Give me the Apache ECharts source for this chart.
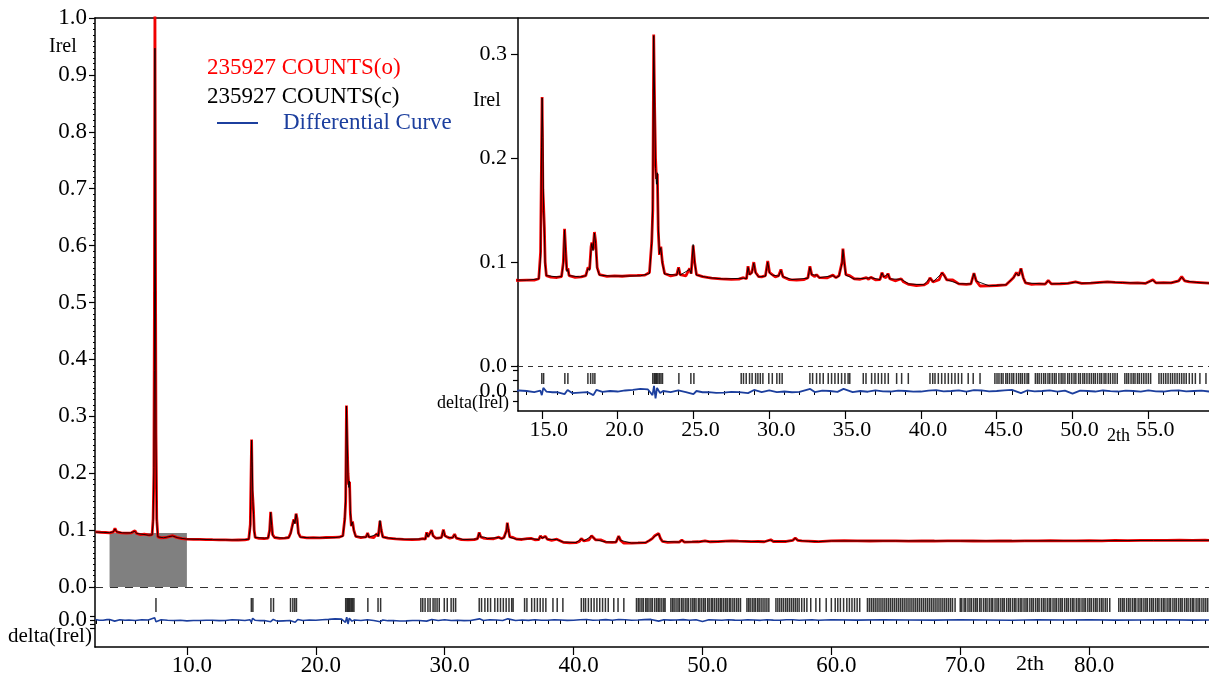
<!DOCTYPE html>
<html><head><meta charset="utf-8">
<script src="https://cdn.jsdelivr.net/npm/echarts@6/dist/echarts.min.js"></script>
<style>html,body{margin:0;padding:0;background:#fff}#c{width:1209px;height:679px}</style>
</head><body><div id="c"></div>
<script>
// ---- data ----
const observed = [[2.9,0.097],[3.3,0.0962],[3.7,0.0958],[4.0,0.095],[4.3,0.097],[4.42,0.103],[4.55,0.097],[4.9,0.0952],[5.3,0.0948],[5.7,0.0953],[5.97,0.099],[6.1,0.094],[6.4,0.0922],[6.7,0.093],[6.8,0.091],[7.1,0.0912],[7.3,0.092],[7.38,0.12],[7.44,0.2],[7.48,0.5],[7.52,1.03],[7.56,0.6],[7.6,0.27],[7.66,0.12],[7.75,0.088],[8.0,0.0862],[8.4,0.087],[8.7,0.089],[8.9,0.0902],[9.2,0.0872],[9.6,0.0852],[10.0,0.0842],[10.5,0.0838],[11,0.0836],[11.5,0.0834],[12,0.0831],[12.5,0.0829],[13,0.0828],[13.5,0.0824],[14,0.0826],[14.5,0.0827],[14.8,0.084],[14.92,0.11],[14.98,0.2],[15.02,0.259],[15.07,0.17],[15.12,0.153],[15.17,0.133],[15.22,0.1],[15.3,0.087],[15.6,0.0855],[16.0,0.0852],[16.3,0.086],[16.42,0.1],[16.5,0.132],[16.58,0.11],[16.65,0.092],[16.72,0.094],[16.8,0.087],[17.2,0.0854],[17.6,0.0858],[17.9,0.087],[18.05,0.095],[18.15,0.093],[18.25,0.115],[18.3,0.119],[18.38,0.112],[18.47,0.129],[18.55,0.12],[18.65,0.095],[18.8,0.088],[19.3,0.0862],[19.8,0.0868],[20.3,0.0864],[20.8,0.087],[21.3,0.0872],[21.8,0.0875],[22.1,0.09],[22.25,0.12],[22.32,0.15],[22.38,0.319],[22.44,0.25],[22.5,0.2],[22.56,0.18],[22.62,0.185],[22.68,0.13],[22.76,0.107],[22.85,0.115],[22.95,0.1],[23.1,0.089],[23.5,0.0868],[23.9,0.088],[24.02,0.095],[24.12,0.088],[24.5,0.0868],[24.75,0.094],[24.85,0.089],[24.98,0.116],[25.08,0.1],[25.2,0.088],[25.6,0.086],[26.2,0.0845],[26.8,0.0838],[27.5,0.0834],[28.0,0.0836],[28.3,0.085],[28.5,0.084],[28.6,0.096],[28.7,0.088],[28.85,0.09],[28.98,0.1],[29.1,0.09],[29.3,0.086],[29.5,0.0858],[29.75,0.087],[29.9,0.101],[30.02,0.09],[30.2,0.088],[30.4,0.0858],[30.62,0.087],[30.77,0.093],[30.9,0.086],[31.3,0.0832],[31.8,0.0828],[32.3,0.0832],[32.55,0.085],[32.68,0.096],[32.8,0.088],[33.0,0.086],[33.12,0.088],[33.3,0.085],[33.8,0.0848],[34.2,0.0875],[34.4,0.085],[34.6,0.087],[34.8,0.1],[34.86,0.113],[34.95,0.1],[35.05,0.088],[35.3,0.087],[35.6,0.084],[36.0,0.0835],[36.4,0.085],[36.55,0.0835],[36.7,0.0855],[37.0,0.083],[37.3,0.0832],[37.43,0.09],[37.55,0.086],[37.7,0.085],[37.83,0.089],[37.95,0.084],[38.3,0.082],[38.7,0.084],[38.85,0.081],[39.2,0.0785],[39.7,0.0775],[40.2,0.078],[40.45,0.08],[40.6,0.085],[40.8,0.081],[41.2,0.083],[41.4,0.09],[41.55,0.087],[41.7,0.083],[42.1,0.0828],[42.5,0.079],[43.0,0.0785],[43.3,0.079],[43.5,0.0893],[43.65,0.082],[43.9,0.077],[44.5,0.0772],[45.0,0.0775],[45.6,0.078],[45.9,0.082],[46.1,0.085],[46.3,0.09],[46.45,0.087],[46.6,0.094],[46.75,0.085],[46.9,0.08],[47.3,0.0785],[47.8,0.079],[48.2,0.0788],[48.4,0.0825],[48.6,0.079],[49.2,0.0792],[49.7,0.0795],[50.2,0.081],[50.6,0.0795],[51.2,0.0797],[51.8,0.0805],[52.3,0.081],[52.8,0.0805],[53.3,0.0803],[53.8,0.0798],[54.3,0.08],[54.8,0.0795],[55.3,0.083],[55.5,0.08],[56.0,0.0802],[56.5,0.08],[57.0,0.082],[57.2,0.086],[57.4,0.082],[57.7,0.081],[58.2,0.0805],[58.7,0.08],[59.0,0.0797],[60,0.081],[61,0.0815],[62,0.081],[63,0.0808],[64,0.081],[65,0.0812],[66,0.0805],[67,0.081],[68,0.0808],[69,0.0812],[70,0.081],[71,0.0808],[72,0.0806],[73,0.081],[74,0.0808],[75,0.0812],[76,0.081],[77,0.0815],[78,0.081],[79,0.0812],[80,0.0815],[81,0.0812],[82,0.0818],[83,0.0815],[84,0.082],[85,0.0818],[86,0.082],[87,0.0822],[88,0.082],[89,0.0822],[89.3,0.082]];

const calculated = [[2.9,0.0965],[3.5,0.096],[4.0,0.0955],[4.3,0.097],[4.42,0.102],[4.55,0.097],[5.0,0.0952],[5.6,0.095],[5.97,0.098],[6.1,0.094],[6.6,0.0925],[7.0,0.091],[7.3,0.0915],[7.38,0.115],[7.44,0.21],[7.48,0.38],[7.52,0.947],[7.56,0.55],[7.6,0.26],[7.66,0.115],[7.75,0.088],[8.2,0.0865],[8.6,0.0885],[8.9,0.0895],[9.3,0.0865],[10,0.0842],[11,0.0838],[12,0.0832],[13,0.0828],[14,0.0826],[14.8,0.0838],[14.92,0.105],[14.98,0.21],[15.02,0.258],[15.07,0.22],[15.12,0.15],[15.17,0.128],[15.22,0.098],[15.3,0.087],[16,0.0858],[16.3,0.0862],[16.42,0.098],[16.5,0.131],[16.58,0.108],[16.65,0.091],[16.72,0.093],[16.8,0.087],[17.5,0.0858],[17.9,0.0868],[18.05,0.094],[18.15,0.092],[18.25,0.113],[18.3,0.118],[18.38,0.111],[18.47,0.128],[18.55,0.118],[18.65,0.094],[18.8,0.0875],[19.5,0.0866],[20.5,0.0866],[21.5,0.0868],[22.1,0.089],[22.25,0.118],[22.32,0.16],[22.38,0.318],[22.44,0.26],[22.5,0.19],[22.56,0.175],[22.62,0.186],[22.68,0.135],[22.76,0.108],[22.85,0.114],[22.95,0.099],[23.1,0.0885],[23.9,0.0875],[24.02,0.094],[24.12,0.0875],[24.75,0.093],[24.85,0.089],[24.98,0.117],[25.08,0.1],[25.2,0.0875],[26,0.085],[27,0.0838],[28.3,0.0845],[28.5,0.0842],[28.6,0.095],[28.7,0.088],[28.85,0.0895],[28.98,0.099],[29.1,0.0895],[29.3,0.0858],[29.75,0.0865],[29.9,0.1],[30.02,0.0895],[30.2,0.0875],[30.62,0.0865],[30.77,0.092],[30.9,0.086],[31.5,0.0832],[32.55,0.0845],[32.68,0.095],[32.8,0.0878],[33.12,0.0875],[33.3,0.085],[34.2,0.087],[34.4,0.085],[34.6,0.0865],[34.8,0.099],[34.86,0.112],[34.95,0.099],[35.05,0.0875],[35.6,0.0838],[36.4,0.0845],[36.7,0.085],[37.3,0.0832],[37.43,0.0895],[37.55,0.0858],[37.83,0.0885],[37.95,0.0838],[38.7,0.0835],[39.2,0.079],[40.2,0.0782],[40.6,0.0845],[40.8,0.081],[41.4,0.0895],[41.55,0.0865],[41.7,0.083],[42.5,0.0792],[43.3,0.079],[43.5,0.089],[43.65,0.0818],[44.5,0.0772],[45.6,0.0782],[46.1,0.0848],[46.3,0.0895],[46.45,0.0868],[46.6,0.0935],[46.75,0.0848],[46.9,0.08],[48.2,0.0789],[48.4,0.0822],[48.6,0.079],[49.7,0.0796],[50.2,0.0808],[50.6,0.0796],[51.8,0.0804],[52.3,0.0809],[53.3,0.0803],[54.8,0.0796],[55.3,0.0825],[55.5,0.08],[56.5,0.0801],[57.0,0.0818],[57.2,0.0855],[57.4,0.082],[58.2,0.0804],[59.0,0.0798],[60,0.081],[65,0.081],[70,0.081],[75,0.0811],[80,0.0814],[85,0.0818],[89.3,0.0821]];

const difference = [[2.9,0.001],[3.2,-0.0004],[3.5,-0.0005],[3.8,0.0006],[4.0,0.0008],[4.4,-0.002],[4.8,0.0005],[5.2,-0.0006],[5.5,0],[6.0,-0.001],[6.5,0.0005],[7.0,0],[7.5,0.004],[7.6,-0.003],[8.0,0.0005],[8.5,-0.0004],[9.0,-0.001],[9.5,-0.0006],[10,-0.0015],[10.5,-0.0008],[11,-0.001],[11.5,-0.0004],[12,-0.0005],[12.5,-0.0012],[13,-0.0008],[13.5,0.0005],[14,0.0],[14.5,-0.001],[14.9,0.0004],[15.0,-0.004],[15.1,0.003],[15.3,-0.0005],[15.7,-0.0012],[16,-0.001],[16.5,-0.003],[16.7,0.001],[17,-0.002],[17.5,-0.0015],[18,-0.001],[18.4,-0.004],[18.6,0.001],[19,-0.0008],[19.5,0.0],[20,-0.0005],[20.5,0.0005],[21,0.001],[21.5,0.002],[22,0.0015],[22.3,-0.004],[22.4,0.005],[22.5,-0.007],[22.6,0.003],[22.8,-0.002],[23,0.0],[23.5,-0.001],[24,0.0005],[24.5,-0.001],[25,-0.003],[25.2,0.0],[25.6,-0.0012],[26,-0.001],[26.5,-0.0018],[27,-0.0015],[27.5,-0.0008],[28,-0.001],[28.6,-0.002],[29,0.001],[29.5,-0.001],[30,0.0005],[30.5,-0.001],[31,-0.0005],[31.5,-0.0012],[32,-0.0008],[32.7,0.002],[33,-0.001],[33.5,0.0004],[34,0.0],[34.5,-0.0008],[34.9,0.002],[35.5,-0.001],[36,0.0],[36.5,-0.0007],[37,0.0005],[37.5,-0.0004],[38,-0.0005],[38.5,0.0004],[39,0.0],[39.5,-0.0006],[40,-0.0005],[40.5,0.0003],[41,0.0008],[41.5,-0.0004],[42,0.0],[42.5,0.0006],[43,-0.0005],[43.5,0.0008],[44,0.0005],[44.5,-0.0004],[45,0.0],[45.5,0.0006],[46,0.001],[46.6,-0.002],[47,0.0005],[47.5,-0.0003],[48,0.0],[48.5,0.0006],[49,-0.0005],[49.5,0.0003],[50,-0.0025],[50.5,0.0004],[51,0.0],[51.5,-0.0005],[52,0.0005],[52.5,-0.0002],[53,-0.0005],[53.5,0.0004],[54,0.0],[54.5,-0.0006],[55,0.0005],[55.5,-0.0003],[56,-0.0005],[56.5,0.0004],[57,0.0005],[57.5,-0.0004],[58,0.0],[58.5,0.0004],[59,-0.0005],[60,0.0003],[62,-0.0003],[64,0.0004],[66,0.0],[68,-0.0003],[70,0.0003],[72,0.0],[74,-0.0004],[76,0.0003],[78,0.0],[80,0.0004],[82,-0.0003],[84,0.0],[86,0.0003],[88,-0.0002],[89.3,0]];

const reflections = [7.6,15.0,15.12,16.52,16.72,18.04,18.22,18.37,18.5,22.32,22.42,22.5,22.58,22.66,22.76,22.86,22.96,24.04,24.83,25.03,28.15,28.3,28.48,28.7,28.87,29.1,29.25,29.41,29.58,29.97,30.2,30.5,30.68,30.85,32.68,32.86,33.12,33.34,33.56,33.89,34.11,34.33,34.55,34.77,34.99,35.2,35.31,36.2,36.38,36.75,36.97,37.19,37.41,37.63,37.85,38.4,38.73,39.17,40.6,40.78,40.93,41.15,41.37,41.59,41.81,42.03,42.25,42.47,42.69,43.12,43.45,43.9,44.88,45.02,45.15,45.3,45.42,45.6,45.71,45.85,46.0,46.12,46.3,46.45,46.58,46.7,46.85,47.0,47.1,47.55,47.68,47.8,47.95,48.1,48.22,48.38,48.5,48.66,48.8,48.92,49.1,49.25,49.37,49.5,49.68,49.8,49.95,50.1,50.22,50.4,50.52,50.68,50.8,50.95,51.1,51.24,51.38,51.5,51.65,51.8,51.92,52.08,52.2,52.36,52.5,52.66,52.8,52.95,53.45,53.58,53.7,53.86,54.0,54.12,54.28,54.4,54.55,54.7,54.85,55.0,55.15,55.7,55.85,56.0,56.15,56.3,56.46,56.6,56.75,56.9,57.05,57.2,57.35,57.5,57.7,57.9,58.1,58.4,58.8,59.1,59.6,60.0,60.3,60.5,60.7,60.95,61.2,61.4,61.6,61.8,62.0,62.2,62.8,62.95,63.1,63.25,63.4,63.55,63.7,63.85,64.0,64.15,64.3,64.45,64.6,64.75,64.9,65.05,65.2,65.35,65.5,65.65,65.8,65.95,66.1,66.25,66.4,66.55,66.7,66.85,67.0,67.15,67.3,67.45,67.6,67.75,67.9,68.05,68.2,68.35,68.5,68.65,68.8,68.95,69.1,69.25,69.4,69.6,70.0,70.12,70.3,70.42,70.6,70.75,70.88,71.05,71.2,71.32,71.5,71.62,71.8,71.95,72.08,72.25,72.4,72.52,72.7,72.85,72.98,73.15,73.3,73.42,73.6,73.75,73.88,74.05,74.2,74.32,74.5,74.65,74.78,74.95,75.1,75.22,75.4,75.55,75.68,75.85,76.0,76.12,76.3,76.45,76.58,76.75,76.9,77.02,77.2,77.35,77.48,77.65,77.8,77.92,78.1,78.25,78.38,78.55,78.7,78.82,79.0,79.15,79.28,79.45,79.6,79.72,79.9,80.05,80.18,80.35,80.5,80.62,80.8,80.95,81.08,81.25,81.4,81.6,82.3,82.45,82.6,82.72,82.9,83.05,83.18,83.35,83.5,83.62,83.8,83.95,84.08,84.25,84.4,84.52,84.7,84.85,84.98,85.15,85.3,85.42,85.6,85.75,85.88,86.05,86.2,86.32,86.5,86.65,86.78,86.95,87.1,87.22,87.4,87.55,87.68,87.85,88.0,88.12,88.3,88.45,88.58,88.75,88.9,89.05,89.2];

const excludedRegion = [4.0, 10.0, 0.095];
const mainXTicks = [10,20,30,40,50,60,70,80];
const insetXTicks = [15,20,25,30,35,40,45,50,55];
const insetYTicks = [0,0.1,0.2,0.3];
const legendLabels = ['235927 COUNTS(o)','235927 COUNTS(c)','Differential Curve'];
const axisNames = {y:'Irel', delta:'delta(Irel)', x:'2th'};

// ---- layout / styling ----
const FONT = '"Liberation Serif", "Times New Roman", serif';
const RED = '#f00000', BLUE = '#1c3f9e';
const MAIN_X = [2.87, 89.3], INSET_X = [13.43, 59.0];
const mainXMinor = [], insetXMinor = [], insetYMinor = [];
for (let v = 3; v <= 89; v++) if (v % 10) mainXMinor.push(v);
for (let v = 14; v <= 58; v++) if (v % 5) insetXMinor.push(v);
for (let k = 1; k <= 33; k++) if (k % 10) insetYMinor.push(k / 100);
const fmt = v => v.toFixed(1);
const braggMain = reflections.map(x => [x, 0.0264]);
const braggInset = reflections.filter(x => x >= INSET_X[0] && x <= INSET_X[1]).map(x => [x, 0.012]);

const blackLine = {lineStyle:{color:'#000', width:1.5}};
function xAxis(grid, range, opts) {
  return Object.assign({type:'value', gridIndex:grid, min:range[0], max:range[1],
    splitLine:{show:false}, axisLine:{show:false}, axisTick:{show:false}, axisLabel:{show:false}}, opts);
}
function yAxis(grid, min, max, opts) {
  return Object.assign({type:'value', gridIndex:grid, min:min, max:max,
    splitLine:{show:false}, axisLine:{show:false}, axisTick:{show:false}, axisLabel:{show:false}}, opts);
}
const lbl = (size, margin, extra) => Object.assign({show:true, fontFamily:FONT, fontSize:size, color:'#000', margin:margin, formatter:fmt}, extra);

const option = {
  animation:false,
  backgroundColor:'#fff',
  grid:[
    {left:95, top:18, right:0, height:569},
    {left:95, top:587, right:0, height:60},
    {left:518, top:18, right:0, height:348},
    {left:518, top:366, right:0, height:45}
  ],
  xAxis:[
    xAxis(0, MAIN_X, {position:'top', axisLine:Object.assign({show:true, onZero:false}, blackLine)}),
    xAxis(1, MAIN_X, {position:'bottom', axisLine:Object.assign({show:true, onZero:false}, blackLine),
      axisTick:{show:true, customValues:mainXTicks, length:8, lineStyle:{color:'#000', width:1.2}},
      axisLabel:lbl(23, 7, {customValues:mainXTicks, padding:[0,0,0,10]})}),
    xAxis(1, MAIN_X, {position:'bottom', axisTick:{show:true, customValues:mainXMinor, length:4, lineStyle:{color:'#000', width:1}}}),
    xAxis(2, INSET_X, {position:'bottom'}),
    xAxis(3, INSET_X, {position:'bottom', axisLine:Object.assign({show:true, onZero:false}, blackLine),
      axisTick:{show:true, customValues:insetXTicks, length:8, lineStyle:{color:'#000', width:1.2}},
      axisLabel:lbl(22, 8, {customValues:insetXTicks, padding:[0,0,0,14]})}),
    xAxis(3, INSET_X, {position:'bottom', axisTick:{show:true, customValues:insetXMinor, length:4, lineStyle:{color:'#000', width:1}}})
  ],
  yAxis:[
    yAxis(0, 0, 1, {interval:0.1, axisLine:Object.assign({show:true, onZero:false}, blackLine),
      axisTick:{show:true, length:6, lineStyle:{color:'#000', width:1.2}},
      minorTick:{show:true, splitNumber:10, length:2, lineStyle:{color:'#000', width:1}},
      axisLabel:lbl(23, 8)}),
    yAxis(1, -0.0475, 0.058, {axisLine:Object.assign({show:true, onZero:false}, blackLine),
      axisTick:{show:true, customValues:[-0.014,-0.007,0,0.007], length:5, lineStyle:{color:'#000', width:1.2}},
      axisLabel:lbl(23, 8, {customValues:[0]})}),
    yAxis(2, 0, 0.335, {axisLine:Object.assign({show:true, onZero:false}, blackLine),
      axisTick:{show:true, customValues:insetYTicks, length:7, lineStyle:{color:'#000', width:1.2}},
      axisLabel:lbl(22, 11, {customValues:insetYTicks})}),
    yAxis(2, 0, 0.335, {axisTick:{show:true, customValues:insetYMinor, length:4, lineStyle:{color:'#000', width:1}}}),
    yAxis(3, -0.0192, 0.024, {axisLine:Object.assign({show:true, onZero:false}, blackLine),
      axisTick:{show:true, customValues:[-0.01,0,0.01,0.02], length:5, lineStyle:{color:'#000', width:1.2}},
      axisLabel:lbl(22, 11, {customValues:[0]})})
  ],
  series:[
    {name:legendLabels[0], type:'line', xAxisIndex:0, yAxisIndex:0, data:observed, showSymbol:false,
      lineStyle:{color:RED, width:2.8}, itemStyle:{color:RED}, z:3,
      markArea:{silent:true, itemStyle:{color:'#808080', opacity:1},
        data:[[{xAxis:excludedRegion[0], yAxis:0},{xAxis:excludedRegion[1], yAxis:excludedRegion[2]}]]},
      markLine:{silent:true, symbol:'none', label:{show:false},
        lineStyle:{color:'#333', type:[8,7], width:1}, data:[{yAxis:0}]}},
    {name:legendLabels[1], type:'line', xAxisIndex:0, yAxisIndex:0, data:calculated, showSymbol:false,
      lineStyle:{color:'#000', width:0.9}, z:4},
    {name:'bragg', type:'scatter', xAxisIndex:1, yAxisIndex:1, data:braggMain, symbol:'rect',
      symbolSize:[1.5,14], itemStyle:{color:'#000'}},
    {name:legendLabels[2], type:'line', xAxisIndex:1, yAxisIndex:1, data:difference, showSymbol:false,
      lineStyle:{color:BLUE, width:1.6}},
    {name:legendLabels[0]+' inset', type:'line', xAxisIndex:3, yAxisIndex:2, data:observed, showSymbol:false,
      lineStyle:{color:RED, width:2.8}, z:3,
      markLine:{silent:true, symbol:'none', label:{show:false},
        lineStyle:{color:'#333', type:[5,5], width:1}, data:[{yAxis:0}]}},
    {name:legendLabels[1]+' inset', type:'line', xAxisIndex:3, yAxisIndex:2, data:calculated, showSymbol:false,
      lineStyle:{color:'#000', width:0.9}, z:4},
    {name:'bragg inset', type:'scatter', xAxisIndex:4, yAxisIndex:4, data:braggInset, symbol:'rect',
      symbolSize:[1.5,11], itemStyle:{color:'#000'}},
    {name:legendLabels[2]+' inset', type:'line', xAxisIndex:4, yAxisIndex:4, data:difference, showSymbol:false,
      lineStyle:{color:BLUE, width:1.8}}
  ],
  graphic:[
    {type:'text', x:207, y:68, style:{text:legendLabels[0], font:'23px '+FONT, fill:'#ff0000', verticalAlign:'middle'}},
    {type:'text', x:207, y:97, style:{text:legendLabels[1], font:'23px '+FONT, fill:'#000', verticalAlign:'middle'}},
    {type:'line', shape:{x1:217, y1:123, x2:258, y2:123}, style:{stroke:BLUE, lineWidth:2}},
    {type:'text', x:283, y:123, style:{text:legendLabels[2], font:'23px '+FONT, fill:BLUE, verticalAlign:'middle'}},
    {type:'text', x:49, y:47, style:{text:axisNames.y, font:'20px '+FONT, fill:'#000', verticalAlign:'middle'}},
    {type:'text', x:8, y:636, style:{text:axisNames.delta, font:'21px '+FONT, fill:'#000', verticalAlign:'middle'}},
    {type:'text', x:1016, y:664, style:{text:axisNames.x, font:'22px '+FONT, fill:'#000', verticalAlign:'middle'}},
    {type:'text', x:473, y:101, style:{text:axisNames.y, font:'20px '+FONT, fill:'#000', verticalAlign:'middle'}},
    {type:'text', x:437, y:403, style:{text:axisNames.delta, font:'18px '+FONT, fill:'#000', verticalAlign:'middle'}},
    {type:'text', x:1107, y:436, style:{text:axisNames.x, font:'18px '+FONT, fill:'#000', verticalAlign:'middle'}}
  ]
};
const chart = echarts.init(document.getElementById('c'), null, {renderer:'canvas'});
chart.setOption(option);
</script>
</body></html>
